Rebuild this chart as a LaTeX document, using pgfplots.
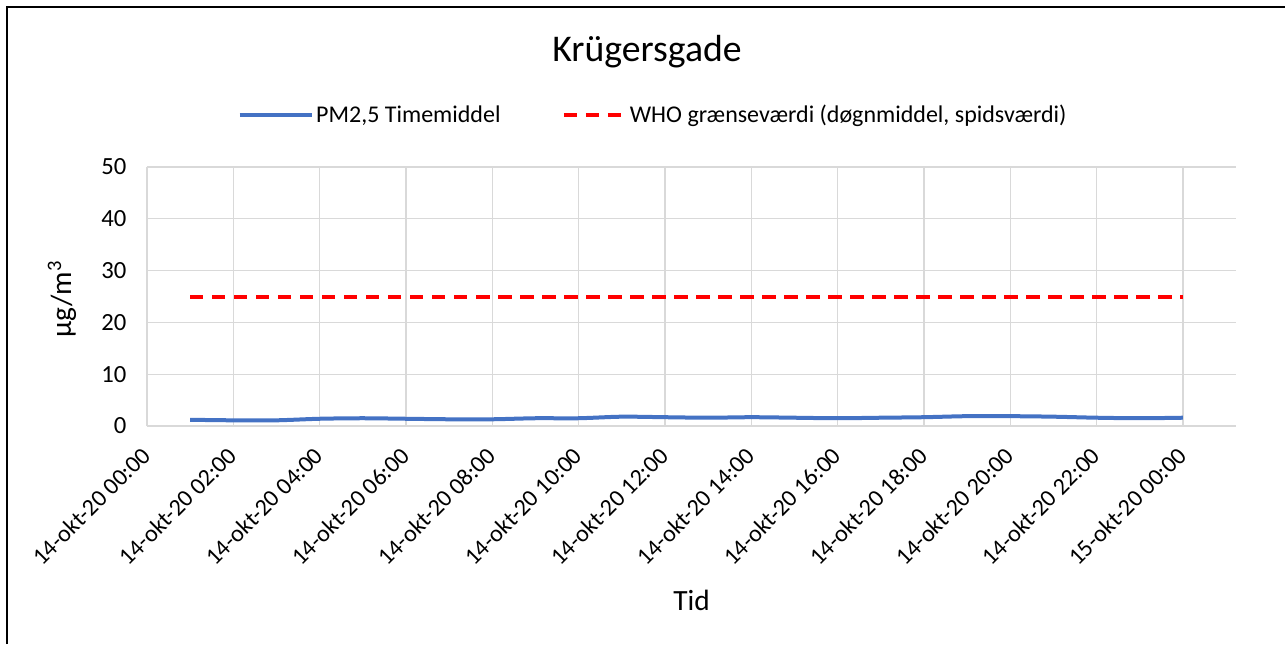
\documentclass[border=0pt]{standalone}
\usepackage{fontspec}
\setmainfont{Carlito}
\usepackage{pgfplots}
\pgfplotsset{compat=1.18}
\definecolor{pmblue}{HTML}{4472C4}
\definecolor{whored}{HTML}{FF0000}
\definecolor{gridgray}{HTML}{D9D9D9}

\begin{document}
\begin{tikzpicture}
\useasboundingbox (0,0) rectangle (963.75pt,-483pt);
\draw[line width=1.5pt] (5.25pt,-483pt) -- (5.25pt,-4.9pt) -- (963.75pt,-4.9pt);
\node[font=\fontsize{28.3}{34}\selectfont] at (485.25pt,-39pt) {Krügersgade};
\begin{axis}[
  at={(110.25pt,-319.5pt)}, anchor=south west,
  scale only axis,
  width=816.75pt, height=194.25pt,
  xmin=0, xmax=25.23,
  ymin=0, ymax=50,
  xtick={0,2,...,24},
  xticklabels={14-okt-20 00:00,14-okt-20 02:00,14-okt-20 04:00,14-okt-20 06:00,
    14-okt-20 08:00,14-okt-20 10:00,14-okt-20 12:00,14-okt-20 14:00,14-okt-20 16:00,
    14-okt-20 18:00,14-okt-20 20:00,14-okt-20 22:00,15-okt-20 00:00},
  ytick={0,10,...,50},
  major tick length=0pt,
  axis x line*=bottom, axis y line*=left,
  axis line style={gridgray, line width=1.2pt, -},
  grid=major,
  grid style={gridgray, line width=1pt},
  tick label style={font=\fontsize{18.5}{22}\selectfont},
  /pgf/number format/assume math mode=true,
  xticklabel style={font=\fontsize{18}{22}\selectfont, rotate=45, anchor=north east,
    inner sep=2pt, xshift=-12pt, yshift=-4.5pt},
  yticklabel style={xshift=-12pt},
  xlabel={Tid},
  ylabel={µg/m\textsuperscript{3}},
  label style={font=\fontsize{22}{26}\selectfont},
  xlabel style={at={(rel axis cs:0.5,-0.672)}, anchor=center},
  ylabel style={at={(rel axis cs:-0.078,0.49)}, anchor=center},
  legend columns=2,
  legend style={at={(rel axis cs:0.465,1.2)}, anchor=center, draw=none, fill=none,
    font=\fontsize{18}{22}\selectfont,
    /tikz/every even column/.append style={column sep=44pt}},
  legend cell align=left,
]
\addplot[pmblue, line width=3pt, smooth,
  legend image code/.code={\draw[pmblue, line width=3pt] (0pt,0pt) -- (54pt,0pt);}]
  coordinates {(1,1.2)(2,1.1)(3,1.1)(4,1.4)(5,1.5)(6,1.4)(7,1.3)(8,1.3)
    (9,1.5)(10,1.5)(11,1.8)(12,1.7)(13,1.6)(14,1.7)(15,1.6)(16,1.5)
    (17,1.6)(18,1.7)(19,1.9)(20,1.9)(21,1.8)(22,1.6)(23,1.5)(24,1.6)};
\addplot[whored, line width=3pt, dash pattern=on 10pt off 6.5pt,
  legend image code/.code={\draw[whored, line width=3pt, dash pattern=on 10pt off 6.5pt] (0pt,0pt) -- (46pt,0pt);}]
  coordinates {(1,25)(2,25)(3,25)(4,25)(5,25)(6,25)(7,25)(8,25)
    (9,25)(10,25)(11,25)(12,25)(13,25)(14,25)(15,25)(16,25)
    (17,25)(18,25)(19,25)(20,25)(21,25)(22,25)(23,25)(24,25)};
\legend{{PM2,5 Timemiddel}, {WHO grænseværdi (døgnmiddel, spidsværdi)}}
\end{axis}
\end{tikzpicture}
\end{document}
